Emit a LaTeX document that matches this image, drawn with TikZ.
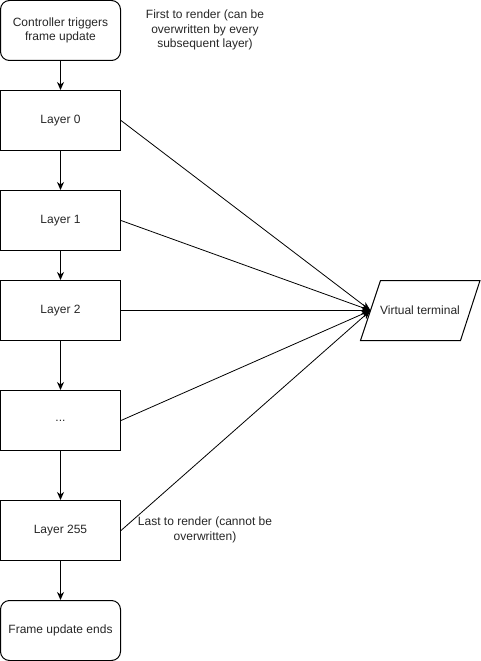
\documentclass[tikz,border=0pt]{standalone}
\usepackage{fontspec}
\setmainfont{Liberation Sans}
\usetikzlibrary{arrows.meta}
\begin{document}
\begin{tikzpicture}[x=1pt,y=-1pt,
  every node/.style={font=\fontsize{12}{14.4}\selectfont, text=black!85},
  box/.style={draw, line width=1pt, rectangle, minimum width=120pt, minimum height=60pt, inner sep=0pt, align=center},
  rbox/.style={box, rounded corners=9pt},
  note/.style={align=center, inner sep=0pt},
  flow/.style={line width=1pt, -{Stealth[length=8pt,width=7pt,inset=2.5pt]}},
  feed/.style={line width=0.8pt, -{Stealth[length=9pt,width=7pt,inset=2.5pt]}}
]
\useasboundingbox (0,0) rectangle (481,661);
\node[rbox] (start) at (60.5,30.5) {Controller triggers\\frame update};
\node[box] (l0) at (60.5,120.5) {Layer 0};
\node[box] (l1) at (60.5,220.5) {Layer 1};
\node[box] (l2) at (60.5,310.5) {Layer 2};
\node[box] (ld) at (60.5,420.5) {...};
\node[box] (l255) at (60.5,530.5) {Layer 255};
\node[rbox] (end) at (60.5,630.5) {Frame update ends};

\draw[line width=1pt] (360.5,340.5) -- (380.5,280.5) -- (480,280.5) -- (460.5,340.5) -- cycle;
\node[note] (vt) at (420,310.5) {Virtual terminal};
\coordinate (vtin) at (370.5,310.5);

\node[note] (first) at (205,30) {First to render (can be\\overwritten by every\\subsequent layer)};
\node[note] (last) at (205,530) {Last to render (cannot be\\overwritten)};

\draw[flow] (start) -- (l0);
\draw[flow] (l0) -- (l1);
\draw[flow] (l1) -- (l2);
\draw[flow] (l2) -- (ld);
\draw[flow] (ld) -- (l255);
\draw[flow] (l255) -- (end);

\foreach \n in {l0,l1,l2,ld,l255}
  \draw[feed] (\n.east) -- (vtin);
\end{tikzpicture}
\end{document}
